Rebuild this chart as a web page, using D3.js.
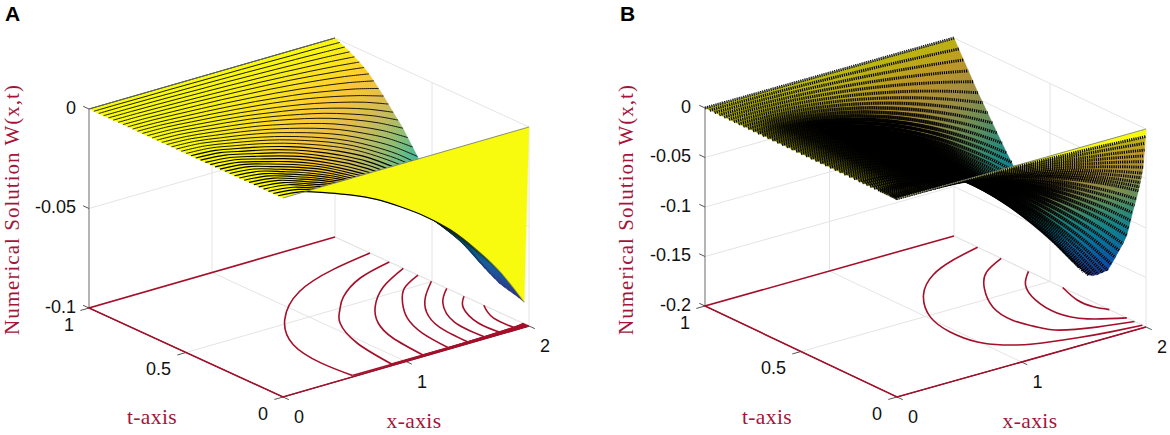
<!DOCTYPE html>
<html>
<head>
<meta charset="utf-8">
<script src="https://cdn.jsdelivr.net/npm/d3@7"></script>
<style>
  html, body { margin: 0; background: #fff; }
  svg { display: block; }
  .tick { font: 18px "Liberation Sans", Arial, sans-serif; fill: #111; }
  .lab { font-family: "Liberation Serif", serif; fill: #a3153a; }
</style>
</head>
<body>
<svg id="chart" width="1170" height="435"></svg>
<script>
// values. depth = -W(x,t), one row per t, one column per x
const xValues = [0, .2, .4, .6, .8, 1, 1.2, 1.4, 1.6, 1.8, 2]
const xTicks = [0, 1, 2]
const tTicks = [0, .5, 1]
const aZTicks = [0, -.05, -.1]
const bZTicks = [0, -.05, -.1, -.15, -.2]

const aT = [0, .025, .05, .075, .1, .125, .15, .175, .2, .225, .25, .275, .3, .325, .35, .375, .4, .425, .45, .475, .5, .525, .55, .575, .6, .625, .65, .675, .7, .725, .75, .775, .8, .825, .85, .875, .9, .925, .95, .975, 1]
const aDepth = [
  [0,0,0,0,0,0,0,0,0,0,0],
  [0,.0015,.0057,.0104,.0161,.0235,.0319,.0421,.055,.0701,.0891],
  [0,.0015,.0057,.0103,.016,.0232,.0316,.0417,.0545,.0694,.0882],
  [0,.0015,.0056,.0102,.0158,.023,.0313,.0413,.054,.0688,.0875],
  [0,.0014,.0056,.0101,.0157,.0229,.0311,.041,.0537,.0683,.0869],
  [0,.0014,.0056,.0101,.0156,.0227,.0308,.0407,.0533,.0678,.0862],
  [0,.0014,.0055,.01,.0155,.0225,.0306,.0404,.0528,.0673,.0855],
  [0,.0014,.0054,.0098,.0153,.0222,.0301,.0398,.052,.0663,.0842],
  [0,.0014,.0053,.0097,.015,.0218,.0296,.0391,.0512,.0651,.0828],
  [0,.0014,.0052,.0095,.0147,.0214,.0291,.0384,.0502,.0639,.0813],
  [0,.0013,.0051,.0093,.0144,.021,.0285,.0376,.0492,.0627,.0797],
  [0,.0013,.005,.009,.014,.0203,.0276,.0365,.0477,.0607,.0772],
  [0,.0012,.0048,.0087,.0134,.0196,.0266,.0351,.0459,.0584,.0743],
  [0,.0012,.0046,.0084,.013,.0189,.0257,.0339,.0444,.0565,.0718],
  [0,.0012,.0045,.0081,.0126,.0182,.0248,.0327,.0428,.0545,.0693],
  [0,.0011,.0043,.0077,.012,.0174,.0237,.0312,.0409,.052,.0662],
  [0,.0011,.0041,.0074,.0114,.0166,.0225,.0298,.0389,.0496,.063],
  [0,.001,.0039,.007,.0108,.0158,.0214,.0283,.037,.0471,.0599],
  [0,.0009,.0037,.0066,.0103,.0149,.0203,.0268,.035,.0446,.0567],
  [0,.0009,.0034,.0062,.0097,.0141,.0191,.0252,.033,.042,.0534],
  [0,.0008,.0032,.0058,.0091,.0132,.0179,.0236,.0309,.0394,.05],
  [0,.0008,.003,.0055,.0085,.0124,.0168,.0222,.0291,.037,.0471],
  [0,.0007,.0028,.0051,.008,.0116,.0158,.0208,.0272,.0347,.0441],
  [0,.0007,.0026,.0047,.0073,.0107,.0145,.0191,.025,.0319,.0405],
  [0,.0006,.0024,.0043,.0067,.0097,.0132,.0174,.0228,.029,.0369],
  [0,.0006,.0021,.0039,.006,.0088,.0119,.0157,.0206,.0262,.0333],
  [0,.0005,.0019,.0035,.0054,.0078,.0106,.014,.0183,.0234,.0297],
  [0,.0004,.0017,.0031,.0048,.007,.0096,.0126,.0165,.021,.0267],
  [0,.0004,.0015,.0028,.0043,.0063,.0085,.0113,.0147,.0188,.0239],
  [0,.0003,.0013,.0024,.0038,.0055,.0075,.0099,.0129,.0164,.0209],
  [0,.0003,.0012,.0021,.0033,.0047,.0064,.0085,.0111,.0142,.018],
  [0,.0003,.001,.0018,.0028,.004,.0055,.0072,.0095,.012,.0153],
  [0,.0002,.0008,.0015,.0023,.0033,.0045,.006,.0078,.0099,.0126],
  [0,.0002,.0007,.0012,.0018,.0027,.0036,.0048,.0063,.008,.0102],
  [0,.0001,.0005,.0009,.0015,.0021,.0029,.0038,.005,.0064,.0081],
  [0,.0001,.0004,.0008,.0012,.0017,.0023,.0031,.004,.0051,.0065],
  [0,.0001,.0003,.0006,.0009,.0013,.0018,.0023,.0031,.0039,.005],
  [0,.0001,.0002,.0004,.0007,.0009,.0013,.0017,.0022,.0028,.0036],
  [0,0,.0001,.0003,.0004,.0006,.0008,.0011,.0014,.0018,.0023],
  [0,0,.0001,.0001,.0002,.0003,.0004,.0005,.0007,.0008,.0011],
  [0,0,0,0,0,0,0,0,0,0,0]
]

const bT = [0, .0025, .005, .0075, .01, .0125, .015, .02, .025, .03, .035, .04, .05, .06, .07, .08, .09, .1, .12, .14, .16, .18, .2, .225, .25, .275, .3, .325, .35, .375, .4, .425, .45, .475, .5, .525, .55, .575, .6, .625, .65, .675, .7, .725, .75, .775, .8, .825, .85, .875, .9, .925, .95, .975, 1]
const bDepth = [
  [0,0,0,0,0,0,0,0,0,0,0],
  [0,.0001,.0003,.0007,.0013,.002,.0028,.0039,.005,.0064,.0079],
  [0,.0001,.0006,.0013,.0024,.0037,.0054,.0073,.0095,.012,.0149],
  [0,.0002,.0009,.002,.0035,.0055,.0079,.0107,.014,.0177,.0219],
  [0,.0003,.0011,.0025,.0045,.007,.0101,.0137,.0179,.0227,.028],
  [0,.0003,.0014,.0031,.0055,.0085,.0123,.0167,.0218,.0276,.0341],
  [0,.0004,.0016,.0036,.0064,.01,.0144,.0196,.0256,.0324,.04],
  [0,.0005,.0019,.0042,.0074,.0116,.0167,.0227,.0297,.0375,.0464],
  [0,.0005,.0021,.0046,.0083,.0129,.0186,.0253,.033,.0418,.0516],
  [0,.0006,.0023,.0051,.0091,.0142,.0205,.0279,.0364,.046,.0569],
  [0,.0006,.0025,.0055,.0099,.0154,.0222,.0302,.0394,.0498,.0616],
  [0,.0006,.0026,.0059,.0106,.0165,.0238,.0324,.0423,.0535,.0662],
  [0,.0007,.003,.0068,.012,.0188,.0271,.0369,.0482,.0609,.0753],
  [0,.0008,.0033,.0074,.0132,.0207,.0298,.0405,.053,.067,.0828],
  [0,.0009,.0036,.0082,.0146,.0227,.0328,.0446,.0582,.0736,.091],
  [0,.001,.004,.0089,.016,.0249,.0359,.0488,.0638,.0807,.0998],
  [0,.0011,.0043,.0097,.0174,.0271,.0391,.0531,.0694,.0878,.1085],
  [0,.0011,.0047,.0105,.0187,.0291,.042,.0572,.0747,.0944,.1167],
  [0,.0012,.0051,.0114,.0203,.0317,.0457,.0621,.0812,.1027,.1269],
  [0,.0013,.0054,.0122,.0217,.0339,.0488,.0664,.0868,.1097,.1356],
  [0,.0014,.0058,.013,.0231,.0361,.052,.0707,.0924,.1168,.1444],
  [0,.0015,.0061,.0137,.0245,.0382,.0551,.075,.098,.1239,.1531],
  [0,.0016,.0064,.0144,.0258,.0402,.058,.0788,.103,.1303,.161],
  [0,.0016,.0066,.0148,.0265,.0413,.0595,.081,.1058,.1338,.1654],
  [0,.0016,.0068,.0152,.0272,.0424,.0611,.0831,.1086,.1374,.1698],
  [0,.0017,.0069,.0155,.0277,.0433,.0624,.0848,.1109,.1402,.1733],
  [0,.0017,.007,.0157,.028,.0437,.063,.0857,.112,.1416,.175],
  [0,.0017,.007,.0156,.0279,.0435,.0627,.0853,.1114,.1409,.1741],
  [0,.0017,.0069,.0154,.0274,.0428,.0617,.084,.1098,.1388,.1715],
  [0,.0016,.0068,.0152,.027,.0422,.0608,.0827,.1081,.1366,.1689],
  [0,.0016,.0066,.0148,.0265,.0413,.0595,.081,.1058,.1338,.1654],
  [0,.0016,.0065,.0145,.0259,.0404,.0583,.0793,.1036,.131,.1619],
  [0,.0015,.0063,.0142,.0253,.0395,.057,.0776,.1014,.1281,.1584],
  [0,.0015,.0061,.0137,.0245,.0382,.0551,.075,.098,.1239,.1531],
  [0,.0014,.0059,.0133,.0237,.0369,.0532,.0724,.0946,.1197,.1479],
  [0,.0014,.0057,.0128,.0228,.0356,.0513,.0698,.0913,.1154,.1426],
  [0,.0013,.0055,.0123,.022,.0343,.0495,.0673,.0879,.1112,.1374],
  [0,.0013,.0053,.0118,.021,.0328,.0473,.0643,.084,.1062,.1313],
  [0,.0012,.005,.0112,.02,.0312,.045,.0613,.0801,.1012,.1251],
  [0,.0012,.0048,.0107,.019,.0297,.0428,.0583,.0762,.0963,.119],
  [0,.0011,.0045,.0101,.0181,.0282,.0406,.0553,.0722,.0913,.1129],
  [0,.001,.0042,.0095,.0169,.0264,.0381,.0518,.0678,.0857,.1059],
  [0,.001,.0039,.0088,.0157,.0245,.0353,.048,.0627,.0793,.098],
  [0,.0009,.0036,.0082,.0146,.0227,.0328,.0446,.0582,.0736,.091],
  [0,.0008,.0033,.0075,.0133,.0208,.0299,.0407,.0532,.0673,.0831],
  [0,.0007,.003,.0068,.012,.0188,.0271,.0369,.0482,.0609,.0753],
  [0,.0007,.0027,.006,.0108,.0168,.0243,.033,.0431,.0545,.0674],
  [0,.0006,.0024,.0053,.0095,.0149,.0214,.0291,.0381,.0481,.0595],
  [0,.0005,.0021,.0046,.0083,.0129,.0186,.0253,.033,.0418,.0516],
  [0,.0004,.0018,.0039,.007,.0109,.0158,.0214,.028,.0354,.0438],
  [0,.0003,.0014,.0031,.0056,.0087,.0126,.0171,.0224,.0283,.035],
  [0,.0003,.0011,.0024,.0042,.0066,.0095,.0129,.0168,.0212,.0263],
  [0,.0002,.0007,.0016,.0028,.0044,.0063,.0086,.0112,.0142,.0175],
  [0,.0001,.0004,.0008,.0014,.0022,.0032,.0043,.0056,.0071,.0088],
  [0,0,0,0,0,0,0,0,0,0,0]
]

// contours on the floor, [x, t] points
const aContours = [
  [[2,.82],[1.64,.78],[1.23,.695],[.85,.53],[.62,.34],[.56,.16],[.58,.01]],
  [[2,.72],[1.68,.667],[1.39,.57],[1.23,.487],[1.09,.397],[.957,.225],[.9,.011]],
  [[2,.648],[1.7,.56],[1.44,.438],[1.28,.321],[1.19,.188],[1.155,.011]],
  [[2,.572],[1.79,.509],[1.62,.411],[1.48,.298],[1.39,.163],[1.36,.01]],
  [[2,.503],[1.8,.407],[1.64,.3],[1.54,.17],[1.52,.011]],
  [[2,.424],[1.82,.33],[1.67,.175],[1.66,.012]],
  [[2,.335],[1.87,.256],[1.78,.122],[1.79,.005]],
  [[2,.233],[1.91,.127],[1.91,.003]]
]
// the same levels run on along the t=0 edge as one thick band, [x, t] from the end of each curve
const aEdgeRuns = [
  [[.58,.01],[2,.004]],
  [[.9,.011],[2,.008]],
  [[1.155,.011],[2,.012]],
  [[1.36,.01],[2,.016]],
  [[1.52,.011],[2,.02]],
  [[1.66,.012],[2,.024]],
  [[1.79,.005],[2,.028]],
  [[1.91,.003],[2,.03]]
]
const bContours = [
  [[2,.877],[1.74,.836],[1.48,.772],[1.22,.653],[1.02,.488],[.96,.346],[.99,.224],[1.09,.153],[1.25,.102],[1.54,.058],[1.77,.035],[2,.019]],
  [[2,.754],[1.78,.688],[1.6,.583],[1.44,.435],[1.4,.306],[1.45,.211],[1.53,.146],[1.75,.095],[2,.06]],
  [[2,.612],[1.84,.524],[1.73,.401],[1.7,.269],[1.79,.17],[2,.1]],
  [[2,.434],[1.94,.32],[1.95,.241],[2,.191]]
]
const bEdgeRuns = []

const parula = ['#352a87', '#0f5cdd', '#1481d6', '#06a4ca', '#2eb7a4', '#87bf77', '#d1bb59', '#fec832', '#f9fb0e']
const red = '#a50f2a'
const svg = d3.select('#chart')
const defs = svg.append('defs')

function drawPanel(p) {
  const g = svg.append('g')

  // oblique projection of the box, floor corner x=0 t=0 is the origin
  const xToX = d3.scaleLinear().domain([0, 2]).range([0, p.ex[0]])
  const xToY = d3.scaleLinear().domain([0, 2]).range([0, p.ex[1]])
  const tToX = d3.scaleLinear().domain([0, 1]).range([0, p.et[0]])
  const tToY = d3.scaleLinear().domain([0, 1]).range([0, p.et[1]])
  const floorZ = d3.min(p.zTicks)
  const zToY = d3.scaleLinear().domain([floorZ, 0]).range([0, -p.h])
  const project = (x, t, z) => [
    p.o[0] + xToX(x) + tToX(t),
    p.o[1] + xToY(x) + tToY(t) + zToY(z)
  ]
  const seg = (a, b, color, w) => g.append('line')
    .attr('x1', a[0]).attr('y1', a[1]).attr('x2', b[0]).attr('y2', b[1])
    .attr('stroke', color).attr('stroke-width', w)

  // grid on the two back walls and the floor
  const gridColor = '#e4e4e4'
  p.zTicks.forEach(z => {
    if (z !== floorZ) seg(project(0, 1, z), project(2, 1, z), gridColor, 1)
    seg(project(2, 1, z), project(2, 0, z), gridColor, 1)
  })
  xTicks.slice(1).forEach(x => {
    seg(project(x, 1, floorZ), project(x, 1, 0), gridColor, 1)
    seg(project(x, 0, floorZ), project(x, 1, floorZ), gridColor, 1)
  })
  tTicks.slice(0, 2).forEach(t => {
    seg(project(2, t, floorZ), project(2, t, 0), gridColor, 1)
    seg(project(0, t, floorZ), project(2, t, floorZ), gridColor, 1)
  })

  // axes and ticks
  seg(project(0, 1, floorZ), project(0, 1, 0), '#777', 1.1)
  seg(project(0, 0, floorZ), project(0, 1, floorZ), '#333', 1)
  seg(project(0, 0, floorZ), project(2, 0, floorZ), '#333', 1)
  p.zTicks.forEach(z => {
    seg(project(0, 1, z), project(0, 1.03, z), '#555', 1)
    g.append('text').attr('class', 'tick').attr('text-anchor', 'end')
      .attr('x', p.zLabelX).attr('y', project(0, 1, z)[1] + 4.5)
      .text(z)
  })
  tTicks.forEach(t => {
    const at = project(0, t, floorZ)
    seg(at, project(-.07, t, floorZ), '#555', 1)
    g.append('text').attr('class', 'tick').attr('text-anchor', 'end')
      .attr('x', at[0] - 15).attr('y', at[1] + 22.5)
      .text(t)
  })
  xTicks.forEach(x => {
    const at = project(x, 0, floorZ)
    seg(at, project(x, -.03, floorZ), '#555', 1)
    g.append('text').attr('class', 'tick')
      .attr('x', at[0] + 11).attr('y', at[1] + 26)
      .text(x)
  })

  // contours, the zero level runs round three sides of the floor
  const contourLine = d3.line().curve(d3.curveNatural)
  const floorPoints = c => c.map(d => project(d[0], d[1], floorZ))
  const zeroEdge = [[2, 1], [0, 1], [0, 0], [2, 0]]
  g.append('path')
    .attr('d', d3.line()(floorPoints(zeroEdge)))
    .attr('fill', 'none').attr('stroke', red).attr('stroke-width', 1.6)
  p.contours.forEach(c => {
    g.append('path').attr('d', contourLine(floorPoints(c)))
      .attr('fill', 'none').attr('stroke', red).attr('stroke-width', 1.6)
  })
  p.edgeRuns.forEach(c => {
    g.append('path').attr('d', d3.line()(floorPoints(c)))
      .attr('fill', 'none').attr('stroke', red).attr('stroke-width', 1.6)
  })

  // surface, far rows first so that the nearer ones paint over them
  const zMin = -d3.max(p.depth.flat())
  const color = d3.scaleLinear()
    .domain(parula.map((c, i) => zMin * (1 - i / (parula.length - 1))))
    .range(parula)
  const rowLine = d3.line().curve(d3.curveCatmullRom.alpha(.5))
  const rowPoints = i => xValues.map((x, j) => project(x, p.t[i], -p.depth[i][j]))

  const rowGradient = (id, i, stop) => {
    const a = project(0, p.t[i], 0)
    const b = project(2, p.t[i], 0)
    const grad = defs.append('linearGradient')
      .attr('id', id).attr('gradientUnits', 'userSpaceOnUse')
      .attr('x1', a[0]).attr('y1', a[1]).attr('x2', b[0]).attr('y2', a[1])
    xValues.forEach((x, j) => stop(grad.append('stop').attr('offset', x / 2), x, j))
    return `url(#${id})`
  }

  for (let i = p.t.length - 2; i >= 0; i--) {
    const fill = rowGradient(`${p.id}-fill-${i}`, i, (s, x, j) =>
      s.attr('stop-color', d3.interpolateRgb(color(-p.depth[i][j]), '#000')(i === 0 ? 0 : p.fillDim)))
    const near = rowPoints(i)
    const far = rowPoints(i + 1)
    const tFar = p.t[i + 1]
    g.append('path')
      .attr('d', rowLine(near) + 'L' + rowLine(far.slice().reverse()).slice(1) + 'Z')
      .attr('fill', fill).attr('stroke', fill).attr('stroke-width', .4)
    const lineStroke = rowGradient(`${p.id}-line-${i}`, i + 1, (s, x) => s.attr('stop-color', '#000').attr('stop-opacity', p.lineOpacity(x, tFar)))
    g.append('path').attr('d', rowLine(far))
      .attr('fill', 'none').attr('stroke', lineStroke)
      .attr('stroke-width', p.lineWidth(tFar))
      .attr('stroke-dasharray', p.lineDash)
    if (p.dark) {
      // where the mesh lines of the original close up the surface looks solid black
      const darkStroke = rowGradient(`${p.id}-dark-${i}`, i + 1, (s, x) => s.attr('stop-color', '#000').attr('stop-opacity', p.dark(x, tFar)))
      g.append('path').attr('d', rowLine(far))
        .attr('fill', 'none').attr('stroke', darkStroke).attr('stroke-width', 3.8)
    }
  }
  // the two straight edges at t=0 and t=1
  const edge = i => g.append('path').attr('d', rowLine(rowPoints(i)))
    .attr('fill', 'none').attr('stroke', '#66708a').attr('stroke-width', .8)
  edge(0)
  edge(p.t.length - 1)

  // labels
  g.append('text').attr('class', 'lab').attr('text-anchor', 'middle')
    .attr('font-size', 21.5).attr('letter-spacing', .4)
    .attr('x', p.xLab[0]).attr('y', p.xLab[1]).text('x-axis')
  g.append('text').attr('class', 'lab').attr('text-anchor', 'middle')
    .attr('font-size', 21.5).attr('letter-spacing', .4)
    .attr('x', p.tLab[0]).attr('y', p.tLab[1]).text('t-axis')
  g.append('text').attr('class', 'lab').attr('text-anchor', 'middle')
    .attr('font-size', 21)
    .attr('textLength', 250)
    .attr('transform', `translate(${p.zLab[0]},${p.zLab[1]}) rotate(-90)`)
    .text('Numerical Solution W(x,t)')
  g.append('text')
    .attr('x', p.letter[0]).attr('y', p.letter[1])
    .style('font', 'bold 21px "Liberation Sans", Arial, sans-serif')
    .text(p.id)
}

const aFadeX = d3.scaleLinear().domain([1.3, 1.9]).range([1, .25]).clamp(true)
const bDarkX = d3.scaleLinear().domain([0, .25, 1.35, 1.75, 2]).range([.35, 1, 1, .15, 0])
const bDarkT = d3.scaleLinear().domain([0, .02, .08, .72, .85, 1]).range([0, .2, 1, 1, .2, 0])

drawPanel({
  id: 'A', t: aT, depth: aDepth, contours: aContours, edgeRuns: aEdgeRuns, zTicks: aZTicks,
  o: [283, 397], ex: [246, -71], et: [-194, -89], h: 199,
  zLabelX: 76,
  xLab: [414, 428], tLab: [152, 424], zLab: [19, 210], letter: [5, 21],
  fillDim: 0,
  lineWidth: t => (t < .5 ? 1.15 : .9),
  lineOpacity: (x, t) => (t < .4 ? aFadeX(x) : 1),
  lineDash: null
})
drawPanel({
  id: 'B', t: bT, depth: bDepth, contours: bContours, edgeRuns: bEdgeRuns, zTicks: bZTicks,
  o: [897, 397], ex: [249, -70], et: [-192, -91], h: 198,
  zLabelX: 691,
  xLab: [1030, 428], tLab: [767, 424], zLab: [633, 210], letter: [620, 21],
  fillDim: .25,
  lineWidth: () => 2.9,
  lineOpacity: () => 1,
  lineDash: '1.2 1',
  dark: (x, t) => bDarkX(x) * bDarkT(t)
})
</script>
</body>
</html>
